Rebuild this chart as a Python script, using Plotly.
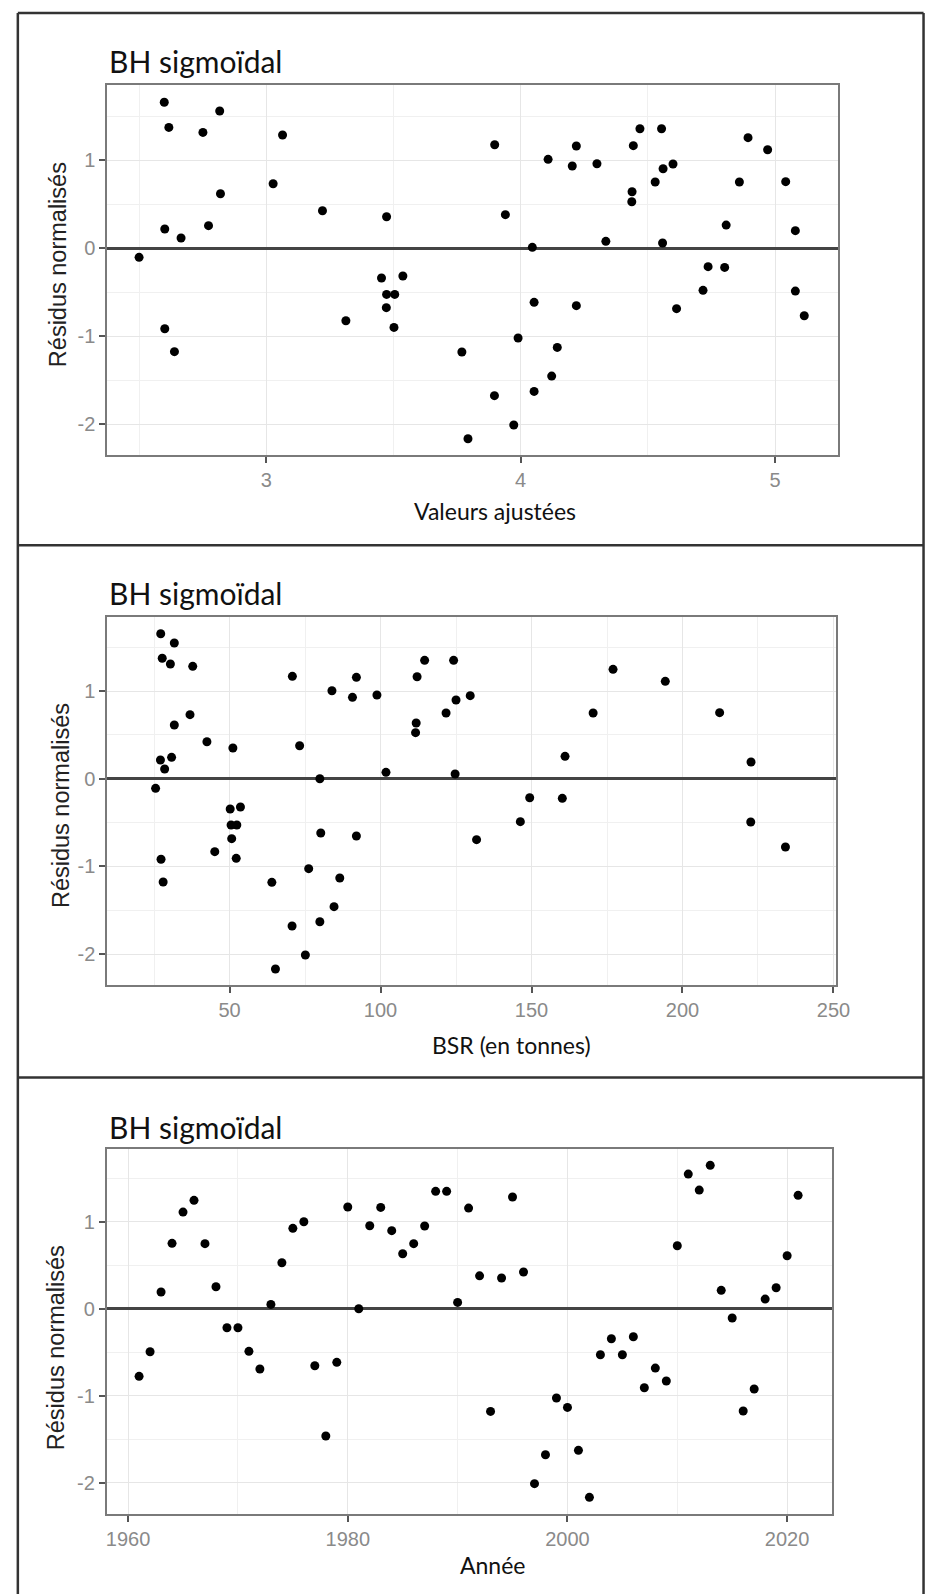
import plotly.graph_objects as go

W, H = 933, 1594

# ---------------- data ----------------
# Panel 1: residuals vs fitted values
fitted = [2.599, 2.817, 2.617, 2.751, 3.064, 3.027, 2.820, 3.221, 3.473, 2.601,
          2.773, 2.665, 2.500, 3.453, 3.537, 3.473, 3.505, 3.472, 3.313, 3.502,
          2.601, 2.639, 3.769, 3.793,
          3.898, 3.940, 4.108, 4.219, 4.203, 4.300, 4.443, 4.469, 4.554, 4.438,
          4.437, 4.529, 4.560, 4.599, 4.335, 4.558, 4.046, 4.053, 4.219, 3.990,
          4.144, 4.122, 3.897, 4.053, 3.973, 4.613, 4.717, 4.737, 4.802, 4.808,
          4.860, 4.894, 4.971, 5.042, 5.080, 5.080, 5.115]
resid_fitted = [1.656, 1.557, 1.371, 1.314, 1.284, 0.731, 0.617, 0.424, 0.356, 0.216,
                0.254, 0.114, -0.106, -0.341, -0.318, -0.527, -0.527, -0.678, -0.826, -0.902,
                -0.917, -1.178, -1.182, -2.167,
                1.174, 0.379, 1.008, 1.159, 0.932, 0.958, 1.163, 1.356, 1.356, 0.640,
                0.526, 0.750, 0.901, 0.955, 0.076, 0.057, 0.008, -0.617, -0.655, -1.023,
                -1.129, -1.455, -1.678, -1.629, -2.011, -0.689, -0.481, -0.212, -0.220, 0.261,
                0.750, 1.254, 1.117, 0.754, 0.197, -0.489, -0.769]

# Panel 2: residuals vs spawning stock biomass (t)
bsr = [27.2, 31.7, 27.7, 30.4, 37.8, 70.8, 92.0, 83.9, 90.7, 98.8,
       112.1, 114.6, 124.2, 129.7, 125.0, 121.7, 111.8, 111.6, 36.9, 31.7,
       42.5, 51.1, 73.2, 27.1, 30.8, 28.5, 101.8, 124.7, 79.9, 25.5,
       50.2, 53.6, 50.5, 52.4, 50.7, 52.2, 45.1, 80.2, 92.0, 27.3,
       28.0, 64.0, 76.2, 86.5, 84.6, 70.7, 79.9, 75.1, 65.2, 131.8,
       177.0, 194.3, 170.4, 212.3, 161.1, 222.7, 149.4, 160.2, 146.3, 222.6, 234.1]
resid_bsr = [1.653, 1.547, 1.373, 1.308, 1.281, 1.167, 1.156, 1.003, 0.928, 0.954,
             1.163, 1.350, 1.350, 0.947, 0.897, 0.749, 0.635, 0.525, 0.730, 0.612,
             0.422, 0.350, 0.376, 0.213, 0.244, 0.111, 0.073, 0.054, 0.000, -0.110,
             -0.345, -0.323, -0.528, -0.528, -0.684, -0.908, -0.832, -0.619, -0.653, -0.919,
             -1.178, -1.182, -1.026, -1.132, -1.459, -1.680, -1.631, -2.010, -2.170, -0.695,
             1.247, 1.110, 0.749, 0.753, 0.255, 0.190, -0.217, -0.224, -0.490, -0.494, -0.779]

# Panel 3: residuals vs year
years = list(range(1961, 2022))
resid_year = [-0.777, -0.494, 0.192, 0.752, 1.111, 1.246, 0.748, 0.253, -0.218, -0.218,
              -0.490, -0.693, 0.050, 0.529, 0.924, 1.000, -0.655, -1.463, -0.616, 1.169,
              0.000, 0.954, 1.165, 0.897, 0.632, 0.748, 0.951, 1.349, 1.349, 0.073,
              1.157, 0.378, -1.180, 0.353, 1.284, 0.422, -2.011, -1.678, -1.026, -1.134,
              -1.628, -2.168, -0.529, -0.345, -0.529, -0.322, -0.908, -0.682, -0.831, 0.724,
              1.548, 1.364, 1.648, 0.211, -0.107, -1.176, -0.923, 0.111, 0.241, 0.609, 1.303]

panel_title = "BH sigmoïdal"
y_title = "Résidus normalisés"
x_titles = ["Valeurs ajustées", "BSR (en tonnes)", "Année"]
x_ticks = [[3, 4, 5], [50, 100, 150, 200, 250], [1960, 1980, 2000, 2020]]
y_ticks = [-2, -1, 0, 1]

# ---------------- layout geometry (pixels) ----------------
def px_x(v):
    return v / W

def px_y(v):
    return 1 - v / H

panels = [
    dict(x=fitted, y=resid_fitted, xl=100, xr=843.3, yt=76.7, yb=447,
         xrange=[2.375, 5.247], yrange=[-2.352, 1.856], xminor=(2.5, 1),
         title_y=53, xt=(494, 503), yt_pos=(50, 257)),
    dict(x=bsr, y=resid_bsr, xl=100, xr=841, yt=609, yb=976.7,
         xrange=[9.5, 250.7], yrange=[-2.349, 1.844], xminor=(25, 50),
         title_y=585, xt=(511, 1037), yt_pos=(53, 798)),
    dict(x=years, y=resid_year, xl=99.5, xr=837.3, yt=1141, yb=1505.7,
         xrange=[1958.06, 2024.08], yrange=[-2.356, 1.836], xminor=(1970, 20),
         title_y=1119, xt=(492, 1557), yt_pos=(48, 1340)),
]

fig = go.Figure()
tick_font = dict(family="Liberation Sans, Arial, sans-serif", size=20, color="#8a8a8a")
grid_major = "#e6e6e6"
grid_minor = "#f0f0f0"
border = "#7a7a7a"

annotations = []
shapes = []
for i, p in enumerate(panels):
    n = "" if i == 0 else str(i + 1)
    fig.add_trace(go.Scatter(
        x=p["x"], y=p["y"], mode="markers",
        marker=dict(color="black", size=9, line=dict(width=0)),
        xaxis="x" + n, yaxis="y" + n, showlegend=False, hoverinfo="x+y"))
    fig.layout["xaxis" + n] = dict(
        domain=[px_x(p["xl"]), px_x(p["xr"])], anchor="y" + n,
        range=p["xrange"], tickmode="array", tickvals=x_ticks[i],
        ticktext=[str(t) for t in x_ticks[i]],
        ticks="outside", ticklen=6, tickwidth=2, tickcolor="#555555",
        tickfont=tick_font, showgrid=True, gridcolor=grid_major, gridwidth=1.3,
        minor=dict(tick0=p["xminor"][0], dtick=p["xminor"][1], showgrid=True,
                   gridcolor=grid_minor, gridwidth=1, ticks=""),
        showline=True, linecolor=border, linewidth=2, mirror=True,
        zeroline=False)
    fig.layout["yaxis" + n] = dict(
        domain=[px_y(p["yb"]), px_y(p["yt"])], anchor="x" + n,
        range=p["yrange"], tickmode="array", tickvals=y_ticks,
        ticktext=[str(t) for t in y_ticks],
        ticks="outside", ticklen=6, tickwidth=2, tickcolor="#555555",
        tickfont=tick_font, showgrid=True, gridcolor=grid_major, gridwidth=1.3,
        minor=dict(tick0=-1.5, dtick=1, showgrid=True, gridcolor=grid_minor,
                   gridwidth=1, ticks=""),
        showline=True, linecolor=border, linewidth=2, mirror=True,
        zeroline=True, zerolinecolor="#444444", zerolinewidth=2.6)

    annotations.append(dict(
        text=panel_title, xref="paper", yref="paper",
        x=px_x(100), y=px_y(p["title_y"]), xanchor="left", yanchor="middle",
        showarrow=False, font=dict(family="Lato, sans-serif", size=30, color="#111111")))
    annotations.append(dict(
        text=x_titles[i], xref="paper", yref="paper",
        x=px_x(p["xt"][0]), y=px_y(p["xt"][1]), xanchor="center", yanchor="middle",
        showarrow=False, font=dict(family="Lato, sans-serif", size=23, color="#111111")))
    annotations.append(dict(
        text=y_title, xref="paper", yref="paper", textangle=-90,
        x=px_x(p["yt_pos"][0]), y=px_y(p["yt_pos"][1]), xanchor="center", yanchor="middle",
        showarrow=False,
        font=dict(family="Liberation Sans, Arial, sans-serif", size=23.5, color="#222222")))

# outer frames around the three panels
frame = dict(color="#333333", width=2.5)
for yy in [5, 537.3, 1069.5]:
    shapes.append(dict(type="line", xref="paper", yref="paper",
                       x0=px_x(9), x1=px_x(930.5), y0=px_y(yy), y1=px_y(yy), line=frame))
shapes.append(dict(type="line", xref="paper", yref="paper",
                   x0=px_x(9), x1=px_x(9), y0=px_y(5), y1=px_y(1594), line=frame))
shapes.append(dict(type="line", xref="paper", yref="paper",
                   x0=px_x(930.5), x1=px_x(930.5), y0=px_y(5), y1=px_y(1594), line=frame))

fig.update_layout(
    width=W, height=H, autosize=False,
    margin=dict(l=0, r=0, t=0, b=0),
    paper_bgcolor="white", plot_bgcolor="white",
    annotations=annotations, shapes=shapes,
)

fig.write_html("out.html")
